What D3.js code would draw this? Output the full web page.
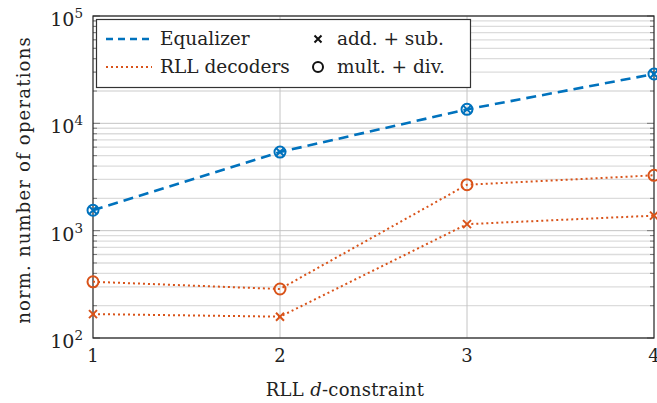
<!DOCTYPE html>
<html>
<head>
<meta charset="utf-8">
<script src="https://cdn.jsdelivr.net/npm/d3@7"></script>
<style>
  html, body { margin: 0; padding: 0; background: #fff; }
  svg { display: block; }
  text { font-family: "DejaVu Serif", serif; fill: #222; }
</style>
</head>
<body>
<svg id="chart" width="657" height="403"></svg>
<script>
// RLL d-constraint values on the x axis
const constraints = [1, 2, 3, 4];
// Equalizer: additions + subtractions and multiplications + divisions
const eqAdd  = [1550, 5400, 13500, 28800];
const eqMult = [1550, 5400, 13500, 28800];
// RLL decoders
const rllAdd  = [167, 158, 1150, 1380];
const rllMult = [334, 286, 2680, 3280];
const yTicks = [100, 1000, 10000, 100000];
const xTicks = [1, 2, 3, 4];

const BLUE = "#0072BD", ORANGE = "#D95319";

const svg = d3.select("#chart");
const m = { left: 93, right: 654, top: 16, bottom: 338 };

const x = d3.scaleLinear().domain([1, 4]).range([m.left, m.right]);
const y = d3.scaleLog().domain([100, 100000]).range([m.bottom, m.top]);

// minor grid values (2..9 per decade)
const minor = [];
for (let e = 2; e < 5; e++) for (let k = 2; k <= 9; k++) minor.push(k * Math.pow(10, e));

const grid = svg.append("g");
grid.selectAll(".minor").data(minor).join("line")
  .attr("x1", m.left).attr("x2", m.right)
  .attr("y1", d => y(d)).attr("y2", d => y(d))
  .attr("stroke", "#dcdcdc").attr("stroke-width", 1.3);
grid.selectAll(".major").data(yTicks).join("line")
  .attr("x1", m.left).attr("x2", m.right)
  .attr("y1", d => y(d)).attr("y2", d => y(d))
  .attr("stroke", "#c4c4c4").attr("stroke-width", 1);
grid.selectAll(".vx").data(xTicks.slice(1, -1)).join("line")
  .attr("x1", d => x(d)).attr("x2", d => x(d))
  .attr("y1", m.top).attr("y2", m.bottom)
  .attr("stroke", "#c4c4c4").attr("stroke-width", 1);

// inner tick marks on left and right edges
const ticks = svg.append("g").attr("stroke", "#777");
ticks.selectAll(".ml").data(minor).join("line")
  .attr("x1", m.left).attr("x2", m.left + 4)
  .attr("y1", d => y(d)).attr("y2", d => y(d)).attr("stroke-width", 1);
ticks.selectAll(".mr").data(minor).join("line")
  .attr("x1", m.right - 4).attr("x2", m.right)
  .attr("y1", d => y(d)).attr("y2", d => y(d)).attr("stroke-width", 1);
ticks.selectAll(".Ml").data(yTicks).join("line")
  .attr("x1", m.left).attr("x2", m.left + 7)
  .attr("y1", d => y(d)).attr("y2", d => y(d)).attr("stroke-width", 1);
ticks.selectAll(".Mr").data(yTicks).join("line")
  .attr("x1", m.right - 7).attr("x2", m.right)
  .attr("y1", d => y(d)).attr("y2", d => y(d)).attr("stroke-width", 1);

// frame
svg.append("rect")
  .attr("x", m.left).attr("y", m.top)
  .attr("width", m.right - m.left).attr("height", m.bottom - m.top)
  .attr("fill", "none").attr("stroke", "#222").attr("stroke-width", 1.2);

// y tick labels 10^n
const yl = svg.append("g");
yTicks.forEach(v => {
  const t = yl.append("text")
    .attr("x", 83).attr("y", y(v) + 10)
    .attr("text-anchor", "end").attr("font-size", 19);
  t.append("tspan").text("10");
  t.append("tspan").attr("dy", -8).attr("font-size", 13.5).text(String(Math.round(Math.log10(v))));
});

// x tick labels
svg.append("g").selectAll("text").data(xTicks).join("text")
  .attr("x", d => x(d)).attr("y", 362)
  .attr("text-anchor", "middle").attr("font-size", 18)
  .text(d => d);

// axis titles
const xt = svg.append("text").attr("x", 345).attr("y", 396)
  .attr("text-anchor", "middle").attr("font-size", 18).attr("letter-spacing", 0.3);
xt.append("tspan").text("RLL ");
xt.append("tspan").attr("font-style", "italic").text("d");
xt.append("tspan").text("-constraint");

svg.append("text")
  .attr("transform", "translate(30," + ((m.top + m.bottom) / 2 + 3) + ") rotate(-90)")
  .attr("text-anchor", "middle").attr("font-size", 18).attr("letter-spacing", 1.2)
  .text("norm. number of operations");

// series
const line = d3.line().x((d, i) => x(constraints[i])).y(d => y(d));
const plot = svg.append("g");

function drawLine(vals, color, dash, width) {
  plot.append("path").datum(vals)
    .attr("d", line).attr("fill", "none")
    .attr("stroke", color).attr("stroke-width", width)
    .attr("stroke-dasharray", dash);
}
function crossPath(s) {
  return `M${-s},${-s}L${s},${s}M${-s},${s}L${s},${-s}`;
}
function drawCross(vals, color) {
  plot.append("g").selectAll("path").data(vals).join("path")
    .attr("transform", (d, i) => `translate(${x(constraints[i])},${y(d)})`)
    .attr("d", crossPath(4)).attr("stroke", color).attr("stroke-width", 2).attr("fill", "none");
}
function drawCircle(vals, color) {
  plot.append("g").selectAll("circle").data(vals).join("circle")
    .attr("cx", (d, i) => x(constraints[i])).attr("cy", d => y(d))
    .attr("r", 5.5).attr("fill", "none").attr("stroke", color).attr("stroke-width", 2);
}

drawLine(rllAdd, ORANGE, "2 3", 2);
drawLine(rllMult, ORANGE, "2 3", 2);
drawLine(eqAdd, BLUE, "10 6", 2.6);
drawCross(rllAdd, ORANGE);
drawCircle(rllMult, ORANGE);
drawCross(eqAdd, BLUE);
drawCircle(eqMult, BLUE);

// legend
const lg = svg.append("g");
lg.append("rect").attr("x", 96.5).attr("y", 19.5).attr("width", 374).attr("height", 68)
  .attr("fill", "#fff").attr("stroke", "#333").attr("stroke-width", 1.2);
lg.append("line").attr("x1", 106).attr("x2", 152).attr("y1", 39).attr("y2", 39)
  .attr("stroke", BLUE).attr("stroke-width", 2.4).attr("stroke-dasharray", "7 5");
lg.append("line").attr("x1", 106).attr("x2", 152).attr("y1", 67).attr("y2", 67)
  .attr("stroke", ORANGE).attr("stroke-width", 2).attr("stroke-dasharray", "2 3");
lg.append("text").attr("x", 160).attr("y", 45).attr("font-size", 18.5).text("Equalizer");
lg.append("text").attr("x", 160).attr("y", 73).attr("font-size", 18.5).text("RLL decoders");
lg.append("path").attr("transform", "translate(318,39)").attr("d", crossPath(3.5))
  .attr("stroke", "#111").attr("stroke-width", 2);
lg.append("circle").attr("cx", 318).attr("cy", 67).attr("r", 5)
  .attr("fill", "none").attr("stroke", "#111").attr("stroke-width", 2);
lg.append("text").attr("x", 337).attr("y", 45).attr("font-size", 18.5).text("add. + sub.");
lg.append("text").attr("x", 337).attr("y", 73).attr("font-size", 18.5).text("mult. + div.");
</script>
</body>
</html>
